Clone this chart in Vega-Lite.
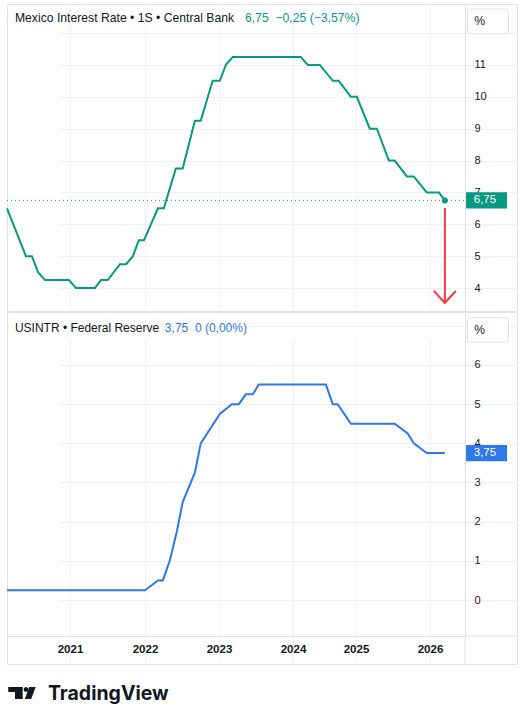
{
  "$schema": "https://vega.github.io/schema/vega-lite/v6.json",
  "padding": {"left": 2, "top": 3, "right": 0, "bottom": 0},
  "autosize": {"type": "pad"},
  "background": "white",
  "spacing": -2,
  "resolve": {"scale": {"x": "independent", "y": "independent"}},
  "config": {
    "font": "Liberation Sans",
    "view": {"stroke": "#e0e3eb", "strokeWidth": 1},
    "axis": {"gridColor": "#eef0f4", "domainColor": "#e0e3eb", "ticks": false, "labelColor": "#131722", "labelFont": "Liberation Sans", "labelFontSize": 11}
  },
  "datasets": {
    "mx": [
      {"date": "2020-03-04", "rate": 6.5},
      {"date": "2020-06-03", "rate": 5.0},
      {"date": "2020-07-02", "rate": 5.0},
      {"date": "2020-07-31", "rate": 4.5},
      {"date": "2020-09-03", "rate": 4.25},
      {"date": "2020-12-27", "rate": 4.25},
      {"date": "2021-01-30", "rate": 4.0},
      {"date": "2021-05-02", "rate": 4.0},
      {"date": "2021-06-01", "rate": 4.25},
      {"date": "2021-07-04", "rate": 4.25},
      {"date": "2021-09-01", "rate": 4.75},
      {"date": "2021-10-01", "rate": 4.75},
      {"date": "2021-11-03", "rate": 5.0},
      {"date": "2021-12-02", "rate": 5.5},
      {"date": "2021-12-27", "rate": 5.5},
      {"date": "2022-03-06", "rate": 6.5},
      {"date": "2022-04-04", "rate": 6.5},
      {"date": "2022-06-02", "rate": 7.75},
      {"date": "2022-07-06", "rate": 7.75},
      {"date": "2022-09-04", "rate": 9.25},
      {"date": "2022-10-03", "rate": 9.25},
      {"date": "2022-11-07", "rate": 10.0},
      {"date": "2022-12-01", "rate": 10.5},
      {"date": "2023-01-05", "rate": 10.5},
      {"date": "2023-02-04", "rate": 11.0},
      {"date": "2023-03-10", "rate": 11.25},
      {"date": "2024-02-15", "rate": 11.25},
      {"date": "2024-03-27", "rate": 11.0},
      {"date": "2024-06-05", "rate": 11.0},
      {"date": "2024-08-19", "rate": 10.5},
      {"date": "2024-09-23", "rate": 10.5},
      {"date": "2024-12-02", "rate": 10.0},
      {"date": "2025-01-05", "rate": 10.0},
      {"date": "2025-03-10", "rate": 9.0},
      {"date": "2025-04-14", "rate": 9.0},
      {"date": "2025-06-12", "rate": 8.0},
      {"date": "2025-07-11", "rate": 8.0},
      {"date": "2025-09-09", "rate": 7.5},
      {"date": "2025-10-13", "rate": 7.5},
      {"date": "2025-12-16", "rate": 7.0},
      {"date": "2026-02-14", "rate": 7.0},
      {"date": "2026-03-15", "rate": 6.75}
    ],
    "us": [
      {"date": "2020-03-04", "rate": 0.25},
      {"date": "2022-01-01", "rate": 0.25},
      {"date": "2022-03-06", "rate": 0.5},
      {"date": "2022-03-30", "rate": 0.5},
      {"date": "2022-05-03", "rate": 1.0},
      {"date": "2022-06-07", "rate": 1.75},
      {"date": "2022-07-06", "rate": 2.5},
      {"date": "2022-09-04", "rate": 3.25},
      {"date": "2022-10-03", "rate": 4.0},
      {"date": "2023-01-05", "rate": 4.75},
      {"date": "2023-03-05", "rate": 5.0},
      {"date": "2023-04-09", "rate": 5.0},
      {"date": "2023-05-13", "rate": 5.25},
      {"date": "2023-06-17", "rate": 5.25},
      {"date": "2023-07-16", "rate": 5.5},
      {"date": "2024-07-10", "rate": 5.5},
      {"date": "2024-08-19", "rate": 5.0},
      {"date": "2024-09-17", "rate": 5.0},
      {"date": "2024-12-02", "rate": 4.5},
      {"date": "2025-07-11", "rate": 4.5},
      {"date": "2025-09-13", "rate": 4.25},
      {"date": "2025-10-13", "rate": 4.0},
      {"date": "2025-12-16", "rate": 3.75},
      {"date": "2026-03-15", "rate": 3.75}
    ]
  },
  "vconcat": [
    {
      "width": 510,
      "height": 307,
      "resolve": {"scale": {"x": "independent", "y": "independent"}},
      "layer": [
        {
          "data": {"name": "mx"},
          "mark": {"type": "line", "color": "#089981", "strokeWidth": 2},
          "encoding": {
            "x": {
              "field": "date", "type": "temporal", "title": null,
              "scale": {"type": "utc", "nice": false, "domain": {"expr": "[utc(2020,2,4), utc(2021,0,1), utc(2022,0,1), utc(2023,0,1), utc(2024,0,1), utc(2025,0,1), utc(2026,0,1), utc(2026,5,22)]"}, "range": [0, 63, 138, 212, 286, 349, 423, 458]},
              "axis": {
                "labels": false, "domain": false, "ticks": false, "grid": true,
                "values": [{"year": 2021, "month": 1, "date": 1, "utc": true}, {"year": 2022, "month": 1, "date": 1, "utc": true}, {"year": 2023, "month": 1, "date": 1, "utc": true}, {"year": 2024, "month": 1, "date": 1, "utc": true}, {"year": 2025, "month": 1, "date": 1, "utc": true}, {"year": 2026, "month": 1, "date": 1, "utc": true}]
              }
            },
            "y": {
              "field": "rate", "type": "quantitative", "title": null,
              "scale": {"domain": [3.28, 12.91], "nice": false, "zero": false},
              "axis": {"orient": "right", "offset": -52, "values": [4, 5, 6, 7, 8, 9, 10, 11, 12], "labelExpr": "datum.value == 12 ? '' : datum.label", "labelPadding": 9, "domain": true, "grid": true, "labelAlign": "left"}
            }
          }
        },
        {
          "data": {"values": [{"start": "2020-03-04", "end": "2026-06-22", "rate": 6.75}]},
          "mark": {"type": "rule", "color": "#089981", "strokeDash": [1, 3], "strokeWidth": 1},
          "encoding": {
            "x": {"field": "start", "type": "temporal", "axis": null, "scale": {"type": "utc", "nice": false, "domain": {"expr": "[utc(2020,2,4), utc(2021,0,1), utc(2022,0,1), utc(2023,0,1), utc(2024,0,1), utc(2025,0,1), utc(2026,0,1), utc(2026,5,22)]"}, "range": [0, 63, 138, 212, 286, 349, 423, 458]}},
            "x2": {"field": "end"},
            "y": {"field": "rate", "type": "quantitative", "axis": null, "scale": {"domain": [3.28, 12.91], "nice": false, "zero": false}}
          }
        },
        {
          "data": {"values": [{"date": "2026-03-15", "top": 6.51, "bottom": 3.56}]},
          "mark": {"type": "rule", "color": "#f23645", "strokeWidth": 2},
          "encoding": {
            "x": {"field": "date", "type": "temporal", "axis": null, "scale": {"type": "utc", "nice": false, "domain": {"expr": "[utc(2020,2,4), utc(2021,0,1), utc(2022,0,1), utc(2023,0,1), utc(2024,0,1), utc(2025,0,1), utc(2026,0,1), utc(2026,5,22)]"}, "range": [0, 63, 138, 212, 286, 349, 423, 458]}},
            "y": {"field": "top", "type": "quantitative", "axis": null, "scale": {"domain": [3.28, 12.91], "nice": false, "zero": false}},
            "y2": {"field": "bottom"}
          }
        },
        {
          "data": {"values": [{"date": "2026-03-15", "rate": 3.53}]},
          "mark": {"type": "point", "shape": "M-1,-1.1L0,0L1,-1.1", "size": 484, "filled": false, "stroke": "#f23645", "strokeWidth": 2, "opacity": 1},
          "encoding": {
            "x": {"field": "date", "type": "temporal", "axis": null, "scale": {"type": "utc", "nice": false, "domain": {"expr": "[utc(2020,2,4), utc(2021,0,1), utc(2022,0,1), utc(2023,0,1), utc(2024,0,1), utc(2025,0,1), utc(2026,0,1), utc(2026,5,22)]"}, "range": [0, 63, 138, 212, 286, 349, 423, 458]}},
            "y": {"field": "rate", "type": "quantitative", "axis": null, "scale": {"domain": [3.28, 12.91], "nice": false, "zero": false}}
          }
        },
        {
          "data": {"values": [{"date": "2026-03-15", "rate": 6.75}]},
          "mark": {"type": "point", "shape": "circle", "size": 36, "filled": true, "color": "#089981", "opacity": 1},
          "encoding": {
            "x": {"field": "date", "type": "temporal", "axis": null, "scale": {"type": "utc", "nice": false, "domain": {"expr": "[utc(2020,2,4), utc(2021,0,1), utc(2022,0,1), utc(2023,0,1), utc(2024,0,1), utc(2025,0,1), utc(2026,0,1), utc(2026,5,22)]"}, "range": [0, 63, 138, 212, 286, 349, 423, 458]}},
            "y": {"field": "rate", "type": "quantitative", "axis": null, "scale": {"domain": [3.28, 12.91], "nice": false, "zero": false}}
          }
        },
        {
          "data": {"values": [{"date": "2026-10-06", "rate": 6.75}]},
          "mark": {"type": "point", "shape": "M-1,-0.4H1V0.4H-1Z", "size": 1681, "filled": true, "color": "#089981", "opacity": 1},
          "encoding": {
            "x": {"field": "date", "type": "temporal", "axis": null, "scale": {"type": "utc", "nice": false, "domain": {"expr": "[utc(2020,2,4), utc(2021,0,1), utc(2022,0,1), utc(2023,0,1), utc(2024,0,1), utc(2025,0,1), utc(2026,0,1), utc(2026,5,22)]"}, "range": [0, 63, 138, 212, 286, 349, 423, 458]}},
            "y": {"field": "rate", "type": "quantitative", "axis": null, "scale": {"domain": [3.28, 12.91], "nice": false, "zero": false}}
          }
        },
        {
          "data": {"values": [{"date": "2026-10-13", "rate": 12.365}]},
          "mark": {"type": "point", "shape": "M-0.85,-0.6H0.85Q1,-0.6 1,-0.45V0.45Q1,0.6 0.85,0.6H-0.85Q-1,0.6 -1,0.45V-0.45Q-1,-0.6 -0.85,-0.6Z", "size": 1681, "filled": true, "fill": "white", "stroke": "#e0e3eb", "strokeWidth": 1, "opacity": 1},
          "encoding": {
            "x": {"field": "date", "type": "temporal", "axis": null, "scale": {"type": "utc", "nice": false, "domain": {"expr": "[utc(2020,2,4), utc(2021,0,1), utc(2022,0,1), utc(2023,0,1), utc(2024,0,1), utc(2025,0,1), utc(2026,0,1), utc(2026,5,22)]"}, "range": [0, 63, 138, 212, 286, 349, 423, 458]}},
            "y": {"field": "rate", "type": "quantitative", "axis": null, "scale": {"domain": [3.28, 12.91], "nice": false, "zero": false}}
          }
        },
        {
          "data": {"values": [{"date": "2026-09-28", "rate": 6.75, "label": "6,75"}]},
          "mark": {"type": "text", "color": "#ffffff", "fontSize": 11.5, "baseline": "middle", "align": "center"},
          "encoding": {
            "x": {"field": "date", "type": "temporal", "axis": null, "scale": {"type": "utc", "nice": false, "domain": {"expr": "[utc(2020,2,4), utc(2021,0,1), utc(2022,0,1), utc(2023,0,1), utc(2024,0,1), utc(2025,0,1), utc(2026,0,1), utc(2026,5,22)]"}, "range": [0, 63, 138, 212, 286, 349, 423, 458]}},
            "y": {"field": "rate", "type": "quantitative", "axis": null, "scale": {"domain": [3.28, 12.91], "nice": false, "zero": false}},
            "text": {"field": "label"}
          }
        },
        {
          "data": {"values": [
            {"date": "2026-08-06", "rate": 12.365, "label": "%"},
            {"date": "2020-04-11", "rate": 12.475, "label": "Mexico Interest Rate • 1S • Central Bank"}
          ]},
          "mark": {"type": "text", "color": "#131722", "fontSize": 12.2, "baseline": "middle", "align": "left"},
          "encoding": {
            "x": {"field": "date", "type": "temporal", "axis": null, "scale": {"type": "utc", "nice": false, "domain": {"expr": "[utc(2020,2,4), utc(2021,0,1), utc(2022,0,1), utc(2023,0,1), utc(2024,0,1), utc(2025,0,1), utc(2026,0,1), utc(2026,5,22)]"}, "range": [0, 63, 138, 212, 286, 349, 423, 458]}},
            "y": {"field": "rate", "type": "quantitative", "axis": null, "scale": {"domain": [3.28, 12.91], "nice": false, "zero": false}},
            "text": {"field": "label"}
          }
        },
        {
          "data": {"values": [{"date": "2023-05-09", "rate": 12.475, "label": "6,75\u00a0\u00a0−0,25 (−3,57%)"}]},
          "mark": {"type": "text", "color": "#089981", "fontSize": 12.2, "baseline": "middle", "align": "left"},
          "encoding": {
            "x": {"field": "date", "type": "temporal", "axis": null, "scale": {"type": "utc", "nice": false, "domain": {"expr": "[utc(2020,2,4), utc(2021,0,1), utc(2022,0,1), utc(2023,0,1), utc(2024,0,1), utc(2025,0,1), utc(2026,0,1), utc(2026,5,22)]"}, "range": [0, 63, 138, 212, 286, 349, 423, 458]}},
            "y": {"field": "rate", "type": "quantitative", "axis": null, "scale": {"domain": [3.28, 12.91], "nice": false, "zero": false}},
            "text": {"field": "label"}
          }
        }
      ]
    },
    {
      "width": 510,
      "height": 352,
      "resolve": {"scale": {"x": "independent", "y": "independent"}},
      "layer": [
        {
          "data": {"name": "us"},
          "mark": {"type": "line", "color": "#2f78e8", "strokeWidth": 2},
          "encoding": {
            "x": {
              "field": "date", "type": "temporal", "title": null,
              "scale": {"type": "utc", "nice": false, "domain": {"expr": "[utc(2020,2,4), utc(2021,0,1), utc(2022,0,1), utc(2023,0,1), utc(2024,0,1), utc(2025,0,1), utc(2026,0,1), utc(2026,5,22)]"}, "range": [0, 63, 138, 212, 286, 349, 423, 458]},
              "axis": {
                "orient": "bottom", "offset": -28, "labels": true, "domain": true, "ticks": false, "grid": true,
                "format": "%Y", "formatType": "utc", "labelFontWeight": "bold", "labelFontSize": 11.5, "labelPadding": 7,
                "labelFlush": false, "labelOverlap": false,
                "values": [{"year": 2021, "month": 1, "date": 1, "utc": true}, {"year": 2022, "month": 1, "date": 1, "utc": true}, {"year": 2023, "month": 1, "date": 1, "utc": true}, {"year": 2024, "month": 1, "date": 1, "utc": true}, {"year": 2025, "month": 1, "date": 1, "utc": true}, {"year": 2026, "month": 1, "date": 1, "utc": true}]
              }
            },
            "y": {
              "field": "rate", "type": "quantitative", "title": null,
              "scale": {"domain": [-0.919, 7.353], "range": [324, 0], "nice": false, "zero": false},
              "axis": {"orient": "right", "offset": -52, "values": [0, 1, 2, 3, 4, 5, 6, 7], "labelExpr": "datum.value == 7 ? '' : datum.label", "labelPadding": 9, "domain": true, "grid": true, "labelAlign": "left"}
            }
          }
        },
        {
          "data": {"values": [{"start": "2026-06-22", "end": "2026-06-22", "top": -0.919, "bottom": -1.634}, {"start": "2026-06-22", "end": "2027-03-05", "top": -0.919, "bottom": -0.919}]},
          "mark": {"type": "rule", "color": "#e0e3eb", "strokeWidth": 1},
          "encoding": {
            "x": {"field": "start", "type": "temporal", "axis": null, "scale": {"type": "utc", "nice": false, "domain": {"expr": "[utc(2020,2,4), utc(2021,0,1), utc(2022,0,1), utc(2023,0,1), utc(2024,0,1), utc(2025,0,1), utc(2026,0,1), utc(2026,5,22)]"}, "range": [0, 63, 138, 212, 286, 349, 423, 458]}},
            "x2": {"field": "end"},
            "y": {"field": "top", "type": "quantitative", "axis": null, "scale": {"domain": [-0.919, 7.353], "range": [324, 0], "nice": false, "zero": false}},
            "y2": {"field": "bottom"}
          }
        },
        {
          "data": {"values": [{"date": "2026-10-06", "rate": 3.75}]},
          "mark": {"type": "point", "shape": "M-1,-0.4H1V0.4H-1Z", "size": 1681, "filled": true, "color": "#2f78e8", "opacity": 1},
          "encoding": {
            "x": {"field": "date", "type": "temporal", "axis": null, "scale": {"type": "utc", "nice": false, "domain": {"expr": "[utc(2020,2,4), utc(2021,0,1), utc(2022,0,1), utc(2023,0,1), utc(2024,0,1), utc(2025,0,1), utc(2026,0,1), utc(2026,5,22)]"}, "range": [0, 63, 138, 212, 286, 349, 423, 458]}},
            "y": {"field": "rate", "type": "quantitative", "axis": null, "scale": {"domain": [-0.919, 7.353], "range": [324, 0], "nice": false, "zero": false}}
          }
        },
        {
          "data": {"values": [{"date": "2026-10-13", "rate": 6.893}]},
          "mark": {"type": "point", "shape": "M-0.85,-0.6H0.85Q1,-0.6 1,-0.45V0.45Q1,0.6 0.85,0.6H-0.85Q-1,0.6 -1,0.45V-0.45Q-1,-0.6 -0.85,-0.6Z", "size": 1681, "filled": true, "fill": "white", "stroke": "#e0e3eb", "strokeWidth": 1, "opacity": 1},
          "encoding": {
            "x": {"field": "date", "type": "temporal", "axis": null, "scale": {"type": "utc", "nice": false, "domain": {"expr": "[utc(2020,2,4), utc(2021,0,1), utc(2022,0,1), utc(2023,0,1), utc(2024,0,1), utc(2025,0,1), utc(2026,0,1), utc(2026,5,22)]"}, "range": [0, 63, 138, 212, 286, 349, 423, 458]}},
            "y": {"field": "rate", "type": "quantitative", "axis": null, "scale": {"domain": [-0.919, 7.353], "range": [324, 0], "nice": false, "zero": false}}
          }
        },
        {
          "data": {"values": [{"date": "2020-05-15", "rate": -2.374}]},
          "mark": {"type": "point", "shape": "M-0.98,-0.43H0.05V0.43H-0.5V-0.07H-0.98Z M0.12,-0.25A0.17,0.17 0 1,0 0.46,-0.25A0.17,0.17 0 1,0 0.12,-0.25Z M0.52,-0.43H0.98L0.66,0.43H0.2Z", "size": 784, "filled": true, "color": "#131722", "opacity": 1},
          "encoding": {
            "x": {"field": "date", "type": "temporal", "axis": null, "scale": {"type": "utc", "nice": false, "domain": {"expr": "[utc(2020,2,4), utc(2021,0,1), utc(2022,0,1), utc(2023,0,1), utc(2024,0,1), utc(2025,0,1), utc(2026,0,1), utc(2026,5,22)]"}, "range": [0, 63, 138, 212, 286, 349, 423, 458]}},
            "y": {"field": "rate", "type": "quantitative", "axis": null, "scale": {"domain": [-0.919, 7.353], "range": [324, 0], "nice": false, "zero": false}}
          }
        },
        {
          "data": {"values": [{"date": "2026-09-28", "rate": 3.75, "label": "3,75"}]},
          "mark": {"type": "text", "color": "#ffffff", "fontSize": 11.5, "baseline": "middle", "align": "center"},
          "encoding": {
            "x": {"field": "date", "type": "temporal", "axis": null, "scale": {"type": "utc", "nice": false, "domain": {"expr": "[utc(2020,2,4), utc(2021,0,1), utc(2022,0,1), utc(2023,0,1), utc(2024,0,1), utc(2025,0,1), utc(2026,0,1), utc(2026,5,22)]"}, "range": [0, 63, 138, 212, 286, 349, 423, 458]}},
            "y": {"field": "rate", "type": "quantitative", "axis": null, "scale": {"domain": [-0.919, 7.353], "range": [324, 0], "nice": false, "zero": false}},
            "text": {"field": "label"}
          }
        },
        {
          "data": {"values": [
            {"date": "2026-08-06", "rate": 6.893, "label": "%"},
            {"date": "2020-04-11", "rate": 6.944, "label": "USINTR • Federal Reserve"}
          ]},
          "mark": {"type": "text", "color": "#131722", "fontSize": 12, "baseline": "middle", "align": "left"},
          "encoding": {
            "x": {"field": "date", "type": "temporal", "axis": null, "scale": {"type": "utc", "nice": false, "domain": {"expr": "[utc(2020,2,4), utc(2021,0,1), utc(2022,0,1), utc(2023,0,1), utc(2024,0,1), utc(2025,0,1), utc(2026,0,1), utc(2026,5,22)]"}, "range": [0, 63, 138, 212, 286, 349, 423, 458]}},
            "y": {"field": "rate", "type": "quantitative", "axis": null, "scale": {"domain": [-0.919, 7.353], "range": [324, 0], "nice": false, "zero": false}},
            "text": {"field": "label"}
          }
        },
        {
          "data": {"values": [{"date": "2022-04-09", "rate": 6.944, "label": "3,75\u00a0\u00a00 (0,00%)"}]},
          "mark": {"type": "text", "color": "#2f78e8", "fontSize": 12, "baseline": "middle", "align": "left"},
          "encoding": {
            "x": {"field": "date", "type": "temporal", "axis": null, "scale": {"type": "utc", "nice": false, "domain": {"expr": "[utc(2020,2,4), utc(2021,0,1), utc(2022,0,1), utc(2023,0,1), utc(2024,0,1), utc(2025,0,1), utc(2026,0,1), utc(2026,5,22)]"}, "range": [0, 63, 138, 212, 286, 349, 423, 458]}},
            "y": {"field": "rate", "type": "quantitative", "axis": null, "scale": {"domain": [-0.919, 7.353], "range": [324, 0], "nice": false, "zero": false}},
            "text": {"field": "label"}
          }
        },
        {
          "data": {"values": [{"date": "2020-09-17", "rate": -2.39, "label": "TradingView"}]},
          "mark": {"type": "text", "color": "#131722", "font": "Inter", "fontWeight": "bold", "fontSize": 19.5, "align": "left", "baseline": "middle"},
          "encoding": {
            "x": {"field": "date", "type": "temporal", "axis": null, "scale": {"type": "utc", "nice": false, "domain": {"expr": "[utc(2020,2,4), utc(2021,0,1), utc(2022,0,1), utc(2023,0,1), utc(2024,0,1), utc(2025,0,1), utc(2026,0,1), utc(2026,5,22)]"}, "range": [0, 63, 138, 212, 286, 349, 423, 458]}},
            "y": {"field": "rate", "type": "quantitative", "axis": null, "scale": {"domain": [-0.919, 7.353], "range": [324, 0], "nice": false, "zero": false}},
            "text": {"field": "label"}
          }
        }
      ]
    }
  ]
}
